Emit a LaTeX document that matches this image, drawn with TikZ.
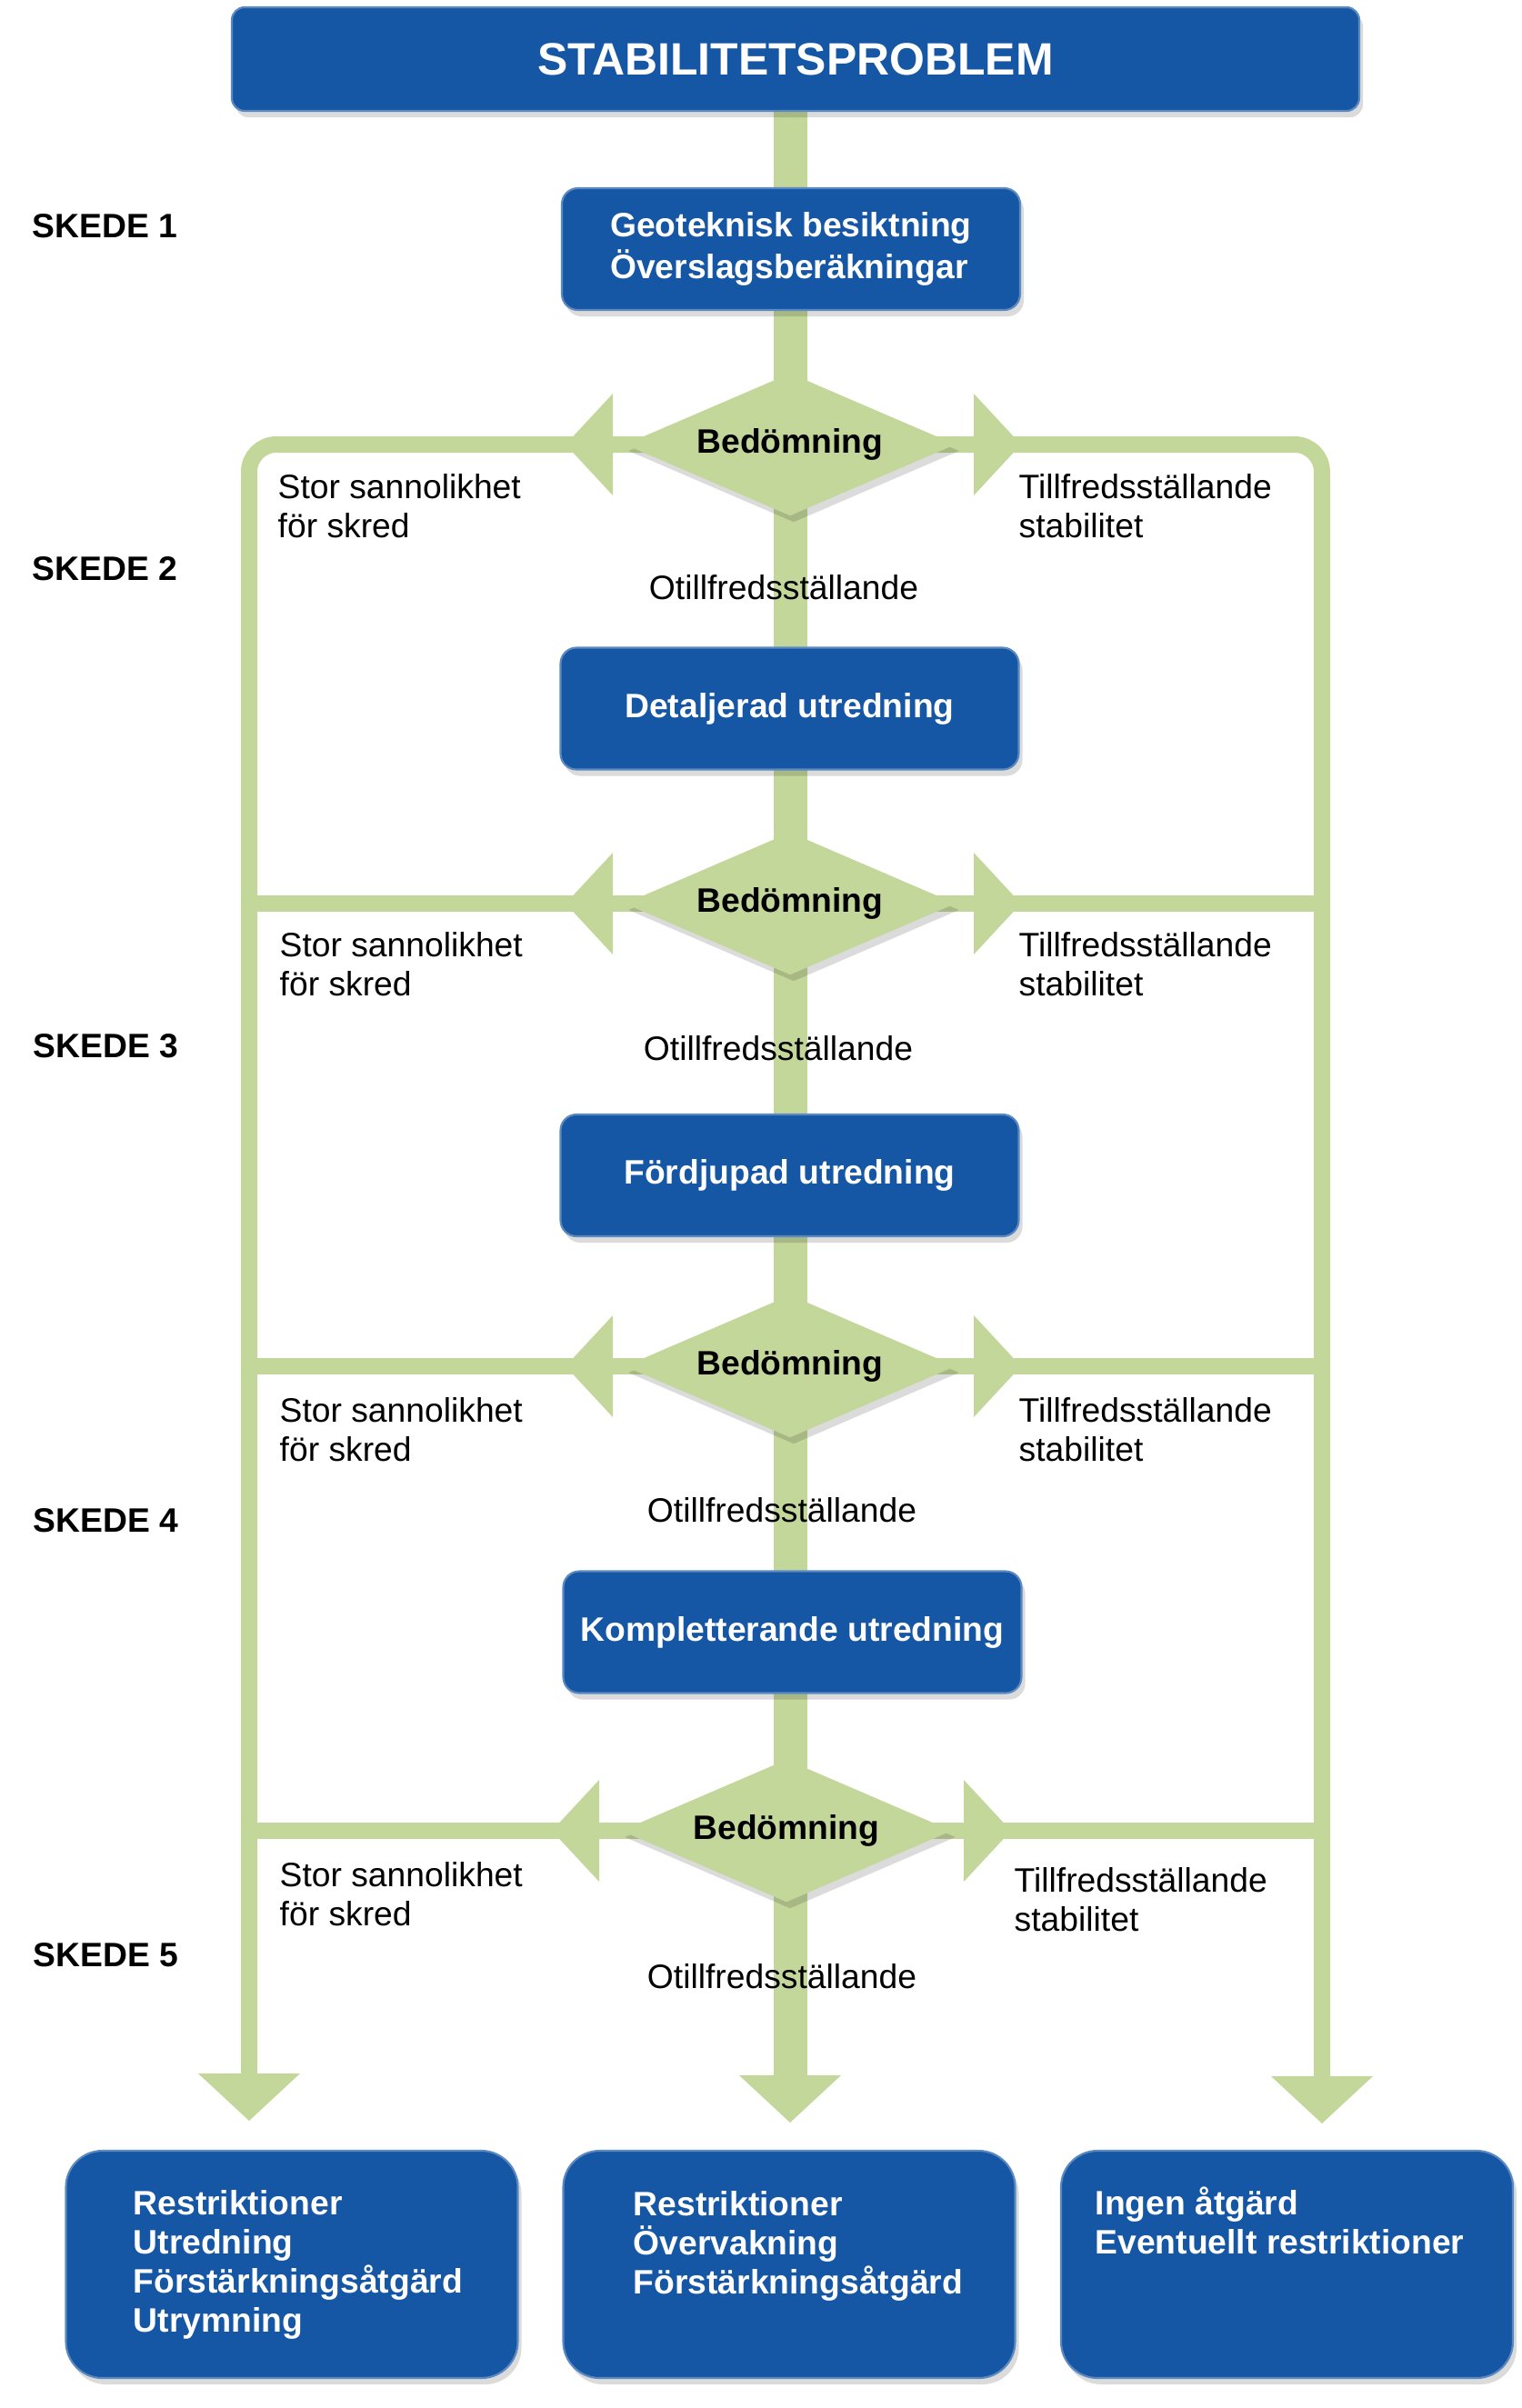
\documentclass[tikz,border=0pt]{standalone}
\usepackage{fontspec}
\setmainfont{Liberation Sans}
\usetikzlibrary{arrows.meta, shapes.geometric, shadows}
\definecolor{skblue}{RGB}{21, 86, 165}
\definecolor{skgreen}{RGB}{196, 215, 155}
\pgfdeclarelayer{bakgrund}
\pgfsetlayers{bakgrund,main}

\begin{document}
\begin{tikzpicture}[
        skugga/.style={
            drop shadow={shadow xshift=0.04cm, shadow yshift=-0.07cm, fill=black, opacity=0.14}
        },
        titel/.style={
            rectangle,
            rounded corners=4pt,
            fill=skblue,
            draw=skblue!70!white,
            line width=0.6pt,
            minimum width=12.4cm,
            minimum height=1.14cm,
            text=white,
            font=\fontsize{14.2}{17}\selectfont\bfseries,
            skugga
        },
        steg/.style={
            rectangle,
            rounded corners=5pt,
            fill=skblue,
            draw=skblue!70!white,
            line width=0.6pt,
            minimum width=5.04cm,
            minimum height=1.34cm,
            align=left,
            text=white,
            font=\fontsize{10.6}{13.1}\selectfont\bfseries,
            skugga
        },
        bedomning/.style={
            diamond,
            aspect=2.3,
            inner sep=0pt,
            minimum width=3.64cm,
            minimum height=1.57cm,
            fill=skgreen,
            font=\fontsize{10.6}{12.2}\selectfont\bfseries,
            skugga
        },
        slut/.style={
            rectangle,
            rounded corners=0.4cm,
            fill=skblue,
            draw=skblue!70!white,
            line width=0.6pt,
            minimum width=4.97cm,
            minimum height=2.5cm,
            skugga
        },
        sluttext/.style={
            anchor=base west,
            inner sep=0pt,
            align=left,
            text=white,
            font=\fontsize{10.6}{12.2}\selectfont\bfseries
        },
        etikett/.style={
            anchor=base west,
            inner sep=0pt,
            align=left,
            font=\fontsize{10.6}{12.2}\selectfont
        },
        nej/.style={
            anchor=base,
            inner sep=0pt,
            font=\fontsize{10.6}{12.2}\selectfont
        },
        skede/.style={
            anchor=base west,
            inner sep=0pt,
            font=\fontsize{10.6}{12.2}\selectfont\bfseries
        },
        stam/.style={draw=skgreen, line width=0.37cm},
        gren/.style={draw=skgreen, line width=0.18cm},
        spets/.style={-{Triangle[width=1.12cm, length=0.52cm, line width=0pt]}}
    ]
        \useasboundingbox (0,0) rectangle (16.74,-26.49);

        % boxes down the middle
        \node[titel] (titel) at (8.75,-0.65) {STABILITETSPROBLEM};
        \node[steg] (b1) at (8.70,-2.74) {Geoteknisk besiktning\\Överslagsberäkningar};
        \node[bedomning] (d1) at (8.69,-4.89) {Bedömning};
        \node[steg] (b2) at (8.685,-7.795) {Detaljerad utredning};
        \node[bedomning] (d2) at (8.69,-9.94) {Bedömning};
        \node[steg] (b3) at (8.685,-12.93) {Fördjupad utredning};
        \node[bedomning] (d3) at (8.69,-15.03) {Bedömning};
        \node[steg] (b4) at (8.715,-17.955) {Kompletterande utredning};
        \node[bedomning] (d4) at (8.65,-20.14) {Bedömning};

        % outcomes (base = last line)
        \node[slut] (s1) at (3.21,-24.91) {};
        \node[slut] (s2) at (8.68,-24.91) {};
        \node[slut] (s3) at (14.155,-24.91) {};
        \node[sluttext] (t1) at (1.46,-25.65) {Restriktioner\\Utredning\\Förstärkningsåtgärd\\Utrymning};
        \node[sluttext] (t2) at (6.96,-25.23) {Restriktioner\\Övervakning\\Förstärkningsåtgärd};
        \node[sluttext] (t3) at (12.04,-24.79) {Ingen åtgärd\\Eventuellt restriktioner};

        % stages
        \node[skede] (k1) at (0.35,-2.61) {SKEDE 1};
        \node[skede] (k2) at (0.35,-6.38) {SKEDE 2};
        \node[skede] (k3) at (0.36,-11.63) {SKEDE 3};
        \node[skede] (k4) at (0.36,-16.85) {SKEDE 4};
        \node[skede] (k5) at (0.36,-21.63) {SKEDE 5};

        % labels at each assessment
        \node[etikett] (l1) at (3.05,-5.91) {Stor sannolikhet\\för skred};
        \node[etikett] (r1) at (11.20,-5.91) {Tillfredsställande\\stabilitet};
        \node[nej] (n1) at (8.62,-6.59) {Otillfredsställande};
        \node[etikett] (l2) at (3.07,-10.95) {Stor sannolikhet\\för skred};
        \node[etikett] (r2) at (11.20,-10.95) {Tillfredsställande\\stabilitet};
        \node[nej] (n2) at (8.56,-11.66) {Otillfredsställande};
        \node[etikett] (l3) at (3.07,-16.07) {Stor sannolikhet\\för skred};
        \node[etikett] (r3) at (11.20,-16.07) {Tillfredsställande\\stabilitet};
        \node[nej] (n3) at (8.60,-16.74) {Otillfredsställande};
        \node[etikett] (l4) at (3.07,-21.18) {Stor sannolikhet\\för skred};
        \node[etikett] (r4) at (11.15,-21.24) {Tillfredsställande\\stabilitet};
        \node[nej] (n4) at (8.60,-21.87) {Otillfredsställande};

        % arrow ends
        \coordinate (vslut) at (2.74,-23.33);
        \coordinate (mslut) at (8.69,-23.35);
        \coordinate (hslut) at (14.54,-23.36);
        \coordinate (pv1) at (6.22,-4.89);
        \coordinate (ph1) at (11.23,-4.89);
        \coordinate (pv2) at (6.22,-9.94);
        \coordinate (ph2) at (11.23,-9.94);
        \coordinate (pv3) at (6.22,-15.03);
        \coordinate (ph3) at (11.23,-15.03);
        \coordinate (pv4) at (6.07,-20.14);
        \coordinate (ph4) at (11.12,-20.14);

        \begin{pgfonlayer}{bakgrund}
            \draw[stam, spets] (titel.south -| mslut) -- (mslut);
            \draw[gren, spets, rounded corners=0.3cm] (d1.center) -| (vslut);
            \draw[gren, spets, rounded corners=0.3cm] (d1.center) -| (hslut);
            \foreach \d in {d2, d3, d4}
                \draw[gren] (\d.center -| vslut) -- (\d.center -| hslut);
            \foreach \i in {1, 2, 3, 4} {
                \draw[gren, spets] (d\i.west) -- (pv\i);
                \draw[gren, spets] (d\i.east) -- (ph\i);
            }
        \end{pgfonlayer}
    \end{tikzpicture}
\end{document}
